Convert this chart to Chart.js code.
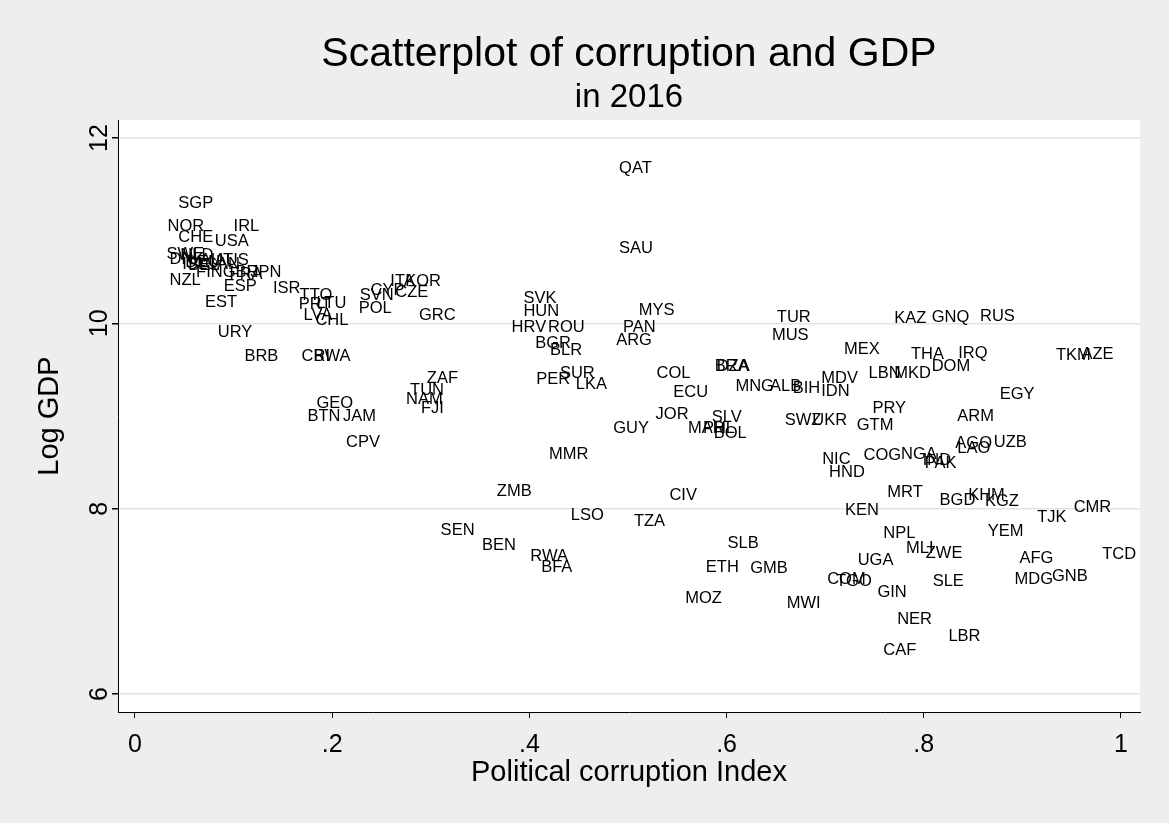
<!DOCTYPE html>
<html>
<head>
<meta charset="utf-8">
<script src="https://cdn.jsdelivr.net/npm/chart.js@4/dist/chart.umd.min.js"></script>
<style>
  html, body { margin: 0; padding: 0; background: #eeeeee; }
  canvas { display: block; }
</style>
</head>
<body>
<canvas id="chart" width="1169" height="823"></canvas>
<script>
// Country codes (ISO3) and their values for 2016
const countries = [
  'SGP','NOR','IRL','CHE','USA','SWE','DNK','NLD','DEU','ISL','BEL','AUT','AUS','CAN',
  'FIN','GBR','FRA','JPN','NZL','ESP','EST','ISR','TTO','PRT','LTU','LVA','CHL','SVN',
  'CYP','POL','ITA','KOR','CZE','GRC','CRI','BWA','URY','BRB','ZAF','TUN','NAM','FJI',
  'GEO','BTN','JAM','CPV','QAT','SAU','SVK','HUN','HRV','ROU','BGR','BLR','MYS','PAN',
  'ARG','SUR','PER','LKA','COL','ECU','JOR','GUY','MMR','MAR','PHL','SLV','BOL','BRA',
  'DZA','TUR','MUS','MNG','ALB','BIH','MDV','IDN','SWZ','UKR','GTM','KAZ','GNQ','RUS',
  'MEX','THA','IRQ','DOM','LBN','MKD','PRY','ARM','AGO','LAO','UZB','NIC','HND','COG',
  'NGA','PAK','IND','TKM','AZE','EGY','ZMB','LSO','TZA','SEN','BEN','RWA','BFA','CIV',
  'SLB','ETH','GMB','MOZ','MWI','COM','TGO','UGA','MRT','BGD','KHM','KGZ','KEN','TJK',
  'CMR','NPL','YEM','MLI','ZWE','TCD','AFG','MDG','GNB','SLE','GIN','NER','LBR','CAF'
];

const corruption = [
  0.044,0.033,0.100,0.044,0.081,0.032,0.035,0.046,0.051,0.048,0.054,0.066,0.081,0.071,
  0.062,0.089,0.096,0.117,0.035,0.090,0.071,0.140,0.167,0.166,0.184,0.171,0.183,0.228,
  0.239,0.227,0.259,0.274,0.264,0.288,0.169,0.181,0.084,0.111,0.296,0.279,0.275,0.290,
  0.184,0.175,0.211,0.214,0.491,0.491,0.394,0.394,0.382,0.419,0.406,0.421,0.511,0.495,
  0.488,0.431,0.407,0.447,0.529,0.546,0.528,0.485,0.420,0.561,0.576,0.585,0.587,0.588,
  0.590,0.651,0.646,0.609,0.644,0.667,0.696,0.696,0.659,0.687,0.732,0.770,0.808,0.857,
  0.719,0.787,0.835,0.808,0.744,0.770,0.748,0.834,0.832,0.834,0.871,0.697,0.704,0.739,
  0.777,0.801,0.799,0.934,0.960,0.877,0.367,0.442,0.506,0.310,0.352,0.401,0.412,0.542,
  0.601,0.579,0.624,0.558,0.661,0.702,0.711,0.733,0.763,0.816,0.845,0.862,0.720,0.915,
  0.952,0.759,0.865,0.782,0.802,0.981,0.897,0.892,0.930,0.809,0.753,0.773,0.825,0.759
];

const logGdp = [
  11.29,11.04,11.04,10.93,10.88,10.74,10.69,10.73,10.66,10.64,10.62,10.68,10.68,10.63,
  10.55,10.55,10.53,10.55,10.46,10.40,10.22,10.38,10.30,10.20,10.21,10.08,10.03,10.30,
  10.35,10.16,10.45,10.45,10.33,10.08,9.64,9.64,9.90,9.64,9.40,9.28,9.18,9.08,
  9.13,8.99,8.99,8.71,11.67,10.81,10.27,10.13,9.96,9.96,9.78,9.71,10.14,9.96,
  9.81,9.46,9.39,9.34,9.46,9.25,9.02,8.87,8.58,8.87,8.87,8.98,8.81,9.54,
  9.54,10.06,9.87,9.32,9.32,9.30,9.40,9.27,8.95,8.95,8.90,10.05,10.06,10.07,
  9.72,9.66,9.68,9.54,9.46,9.46,9.08,9.00,8.70,8.65,8.71,8.53,8.39,8.57,
  8.59,8.49,8.52,9.65,9.66,9.23,8.19,7.93,7.86,7.77,7.60,7.48,7.37,8.14,
  7.63,7.37,7.35,7.03,6.98,7.24,7.22,7.44,8.18,8.09,8.14,8.08,7.98,7.91,
  8.01,7.73,7.75,7.57,7.52,7.51,7.46,7.24,7.27,7.21,7.10,6.81,6.62,6.47
];

// Axis ticks
const xTickValues = [0, 0.2, 0.4, 0.6, 0.8, 1];
const xTickLabels = ['0', '.2', '.4', '.6', '.8', '1'];
const yTickValues = [6, 8, 10, 12];
const yTickLabels = ['6', '8', '10', '12'];

const FONT = '"Liberation Sans", Arial, Helvetica, sans-serif';
const TEXT = '#000000';
const PLOT_BG = '#ffffff';
const GRID = '#e3e3e3';

const points = countries.map((c, i) => ({ x: corruption[i], y: logGdp[i], label: c }));

// White plot region behind the axes
const plotBackground = {
  id: 'plotBackground',
  beforeDraw(chart) {
    const { ctx, chartArea: a } = chart;
    ctx.save();
    ctx.fillStyle = PLOT_BG;
    ctx.fillRect(a.left, a.top, a.right - a.left, a.bottom - a.top);
    ctx.restore();
  }
};

// Country codes written at each observation in place of a marker
const markerLabels = {
  id: 'markerLabels',
  afterDatasetsDraw(chart) {
    const { ctx } = chart;
    const meta = chart.getDatasetMeta(0);
    const data = chart.data.datasets[0].data;
    ctx.save();
    ctx.font = '16.5px ' + FONT;
    ctx.fillStyle = TEXT;
    ctx.textAlign = 'left';
    ctx.textBaseline = 'middle';
    meta.data.forEach((el, i) => {
      ctx.fillText(data[i].label, el.x, el.y);
    });
    ctx.restore();
  }
};

// Titles, vertical y tick labels and axis titles
const frameText = {
  id: 'frameText',
  afterDraw(chart) {
    const { ctx, chartArea: a } = chart;
    const cx = (a.left + a.right) / 2;
    const cy = (a.top + a.bottom) / 2;
    ctx.save();
    ctx.fillStyle = TEXT;
    ctx.textAlign = 'center';
    ctx.textBaseline = 'middle';

    ctx.font = '41px ' + FONT;
    ctx.fillText('Scatterplot of corruption and GDP', cx, 55);
    ctx.font = '33px ' + FONT;
    ctx.fillText('in 2016', cx, 98);

    ctx.font = '29px ' + FONT;
    ctx.fillText('Political corruption Index', cx, 773);

    const yScale = chart.scales.y;
    yScale.ticks.forEach(t => {
      const py = yScale.getPixelForValue(t.value);
      ctx.save();
      ctx.translate(100, py);
      ctx.rotate(-Math.PI / 2);
      ctx.font = '25px ' + FONT;
      ctx.fillText(yTickLabels[yTickValues.indexOf(t.value)], 0, 0);
      ctx.restore();
    });

    ctx.translate(50, cy);
    ctx.rotate(-Math.PI / 2);
    ctx.font = '29px ' + FONT;
    ctx.fillText('Log GDP', 0, 0);
    ctx.restore();
  }
};

new Chart(document.getElementById('chart'), {
  type: 'scatter',
  data: {
    datasets: [{
      data: points,
      pointRadius: 0,
      pointHoverRadius: 0,
      showLine: false
    }]
  },
  options: {
    responsive: false,
    animation: false,
    events: [],
    layout: { padding: { top: 120, right: 29, left: 0, bottom: 0 } },
    plugins: { legend: { display: false }, tooltip: { enabled: false }, title: { display: false } },
    scales: {
      x: {
        type: 'linear',
        min: -0.0172,
        max: 1.0193,
        afterBuildTicks: s => { s.ticks = xTickValues.map(v => ({ value: v })); },
        afterFit: s => { s.height = 111; },
        ticks: {
          color: TEXT,
          font: { family: FONT, size: 25, lineHeight: 1.2 },
          padding: 12,
          maxRotation: 0,
          minRotation: 0,
          callback: v => xTickLabels[xTickValues.indexOf(v)]
        },
        grid: { drawOnChartArea: false, drawTicks: true, tickLength: 6, tickColor: '#000', color: '#000' },
        border: { display: true, color: '#000', width: 1 }
      },
      y: {
        type: 'linear',
        min: 5.806,
        max: 12.194,
        afterBuildTicks: s => { s.ticks = yTickValues.map(v => ({ value: v })); },
        afterFit: s => { s.width = 118; },
        ticks: { display: false },
        grid: { drawOnChartArea: true, color: GRID, lineWidth: 1.5, drawTicks: true, tickLength: 6, tickColor: '#000' },
        border: { display: true, color: '#000', width: 1 }
      }
    }
  },
  plugins: [plotBackground, markerLabels, frameText]
});
</script>
</body>
</html>
